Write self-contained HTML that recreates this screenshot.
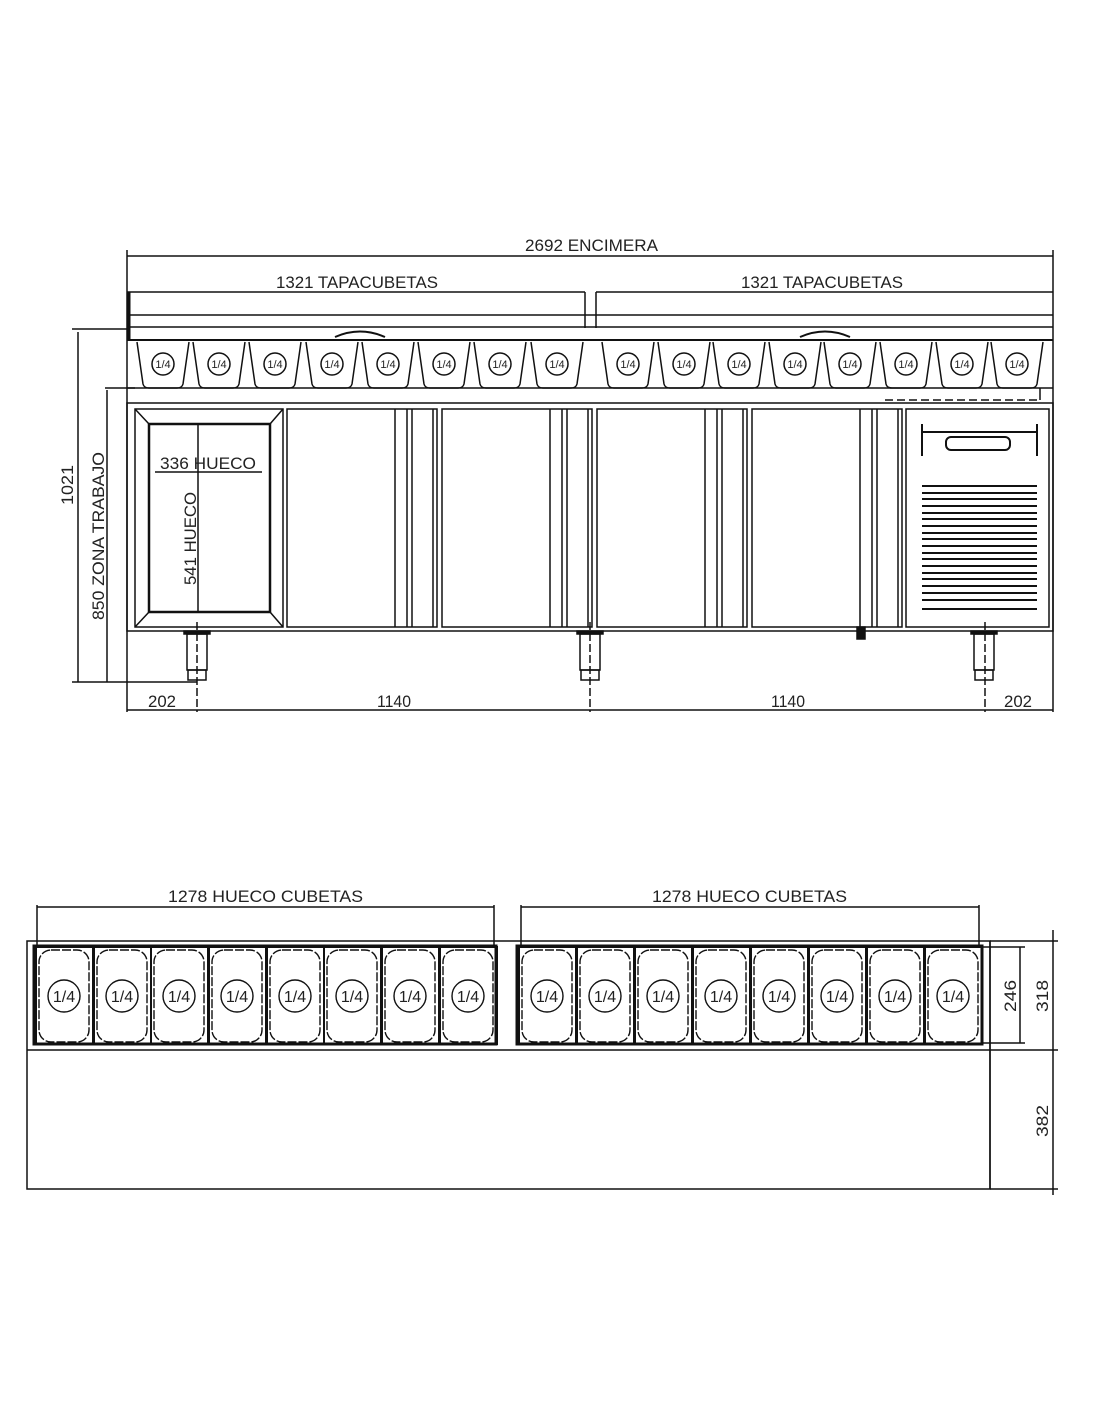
<!DOCTYPE html>
<html><head><meta charset="utf-8"><style>
html,body{margin:0;padding:0;background:#fff;}
svg{display:block;}
text{font-family:"Liberation Sans",sans-serif;fill:#222;}
</style></head><body>
<svg width="1100" height="1422" viewBox="0 0 1100 1422" xmlns="http://www.w3.org/2000/svg">
<defs>
<g id="tp" fill="none" stroke="#111" stroke-width="1.5">
<path d="M2 342 L8 384 Q9 388 14 388 L42 388 Q47 388 48 384 L54 342"/>
<circle cx="28" cy="364" r="11"/>
</g>
<g id="bp" fill="none" stroke="#111" stroke-width="1.4">
<rect x="3" y="950" width="50" height="92" rx="12" stroke-dasharray="9 2"/>
<rect x="0" y="947" width="57" height="97" stroke-width="2"/>
<circle cx="28" cy="996" r="16"/>
</g>
</defs>
<g stroke="#111" stroke-width="1.5" fill="none">
<line x1="127" y1="250" x2="127" y2="712"/>
<line x1="1053" y1="250" x2="1053" y2="712"/>
<line x1="127" y1="256" x2="1053" y2="256"/>
<line x1="127" y1="292" x2="585" y2="292"/>
<line x1="596" y1="292" x2="1053" y2="292"/>
<line x1="585" y1="292" x2="585" y2="328"/>
<line x1="596" y1="292" x2="596" y2="328"/>
<line x1="127" y1="315" x2="1053" y2="315"/>
<line x1="127" y1="327" x2="1053" y2="327"/>
<line x1="127" y1="340" x2="1053" y2="340" stroke-width="2"/>
<line x1="129" y1="292" x2="129" y2="340" stroke-width="3"/>
<line x1="72" y1="329" x2="127" y2="329"/>
<line x1="78" y1="332" x2="78" y2="682"/>
<line x1="105" y1="388" x2="135" y2="388"/>
<line x1="107" y1="390" x2="107" y2="682"/>
<line x1="72" y1="682" x2="197" y2="682"/>
<rect x="127" y="403" width="926" height="228"/>
<line x1="127" y1="388" x2="1053" y2="388"/>
<line x1="885" y1="400" x2="1040" y2="400" stroke-dasharray="8 4"/>
<line x1="1040" y1="388" x2="1040" y2="400"/>
<rect x="135" y="409" width="148" height="218"/>
<rect x="149" y="424" width="121" height="188" stroke-width="2.5"/>
<line x1="135" y1="409" x2="149" y2="424"/><line x1="283" y1="409" x2="270" y2="424"/>
<line x1="135" y1="627" x2="149" y2="612"/><line x1="283" y1="627" x2="270" y2="612"/>
<line x1="198" y1="424" x2="198" y2="612"/>
<line x1="155" y1="472" x2="262" y2="472"/>
<rect x="287" y="409" width="150" height="218"/>
<rect x="442" y="409" width="150" height="218"/>
<rect x="597" y="409" width="150" height="218"/>
<rect x="752" y="409" width="150" height="218"/>
<g stroke-width="1.5">
<path d="M395 409V627M407 409V627M412 409V627M433 409V627"/>
<path d="M550 409V627M562 409V627M567 409V627M588 409V627"/>
<path d="M705 409V627M717 409V627M722 409V627M743 409V627"/>
<path d="M860 409V627M872 409V627M877 409V627M898 409V627"/>
</g>
<rect x="906" y="409" width="143" height="218"/>
<path d="M922 424V456M922 432H1037M1037 424V456" stroke-width="2"/>
<rect x="946" y="437" width="64" height="13" rx="5" stroke-width="2"/>
<g stroke-width="2">
<path d="M922 486H1037M922 493H1037M922 499H1037M922 506H1037M922 513H1037M922 519H1037M922 526H1037M922 533H1037M922 539H1037M922 546H1037M922 553H1037M922 559H1037M922 566H1037M922 573H1037M922 579H1037M922 586H1037M922 593H1037M922 600H1037M922 609H1037"/>
</g>
<rect x="857" y="627" width="8" height="12" fill="#111"/>
<g>
<rect x="184" y="631" width="26" height="3" fill="#111"/><rect x="187" y="634" width="20" height="36"/><rect x="188" y="670" width="18" height="10"/>
<rect x="577" y="631" width="26" height="3" fill="#111"/><rect x="580" y="634" width="20" height="36"/><rect x="581" y="670" width="18" height="10"/>
<rect x="971" y="631" width="26" height="3" fill="#111"/><rect x="974" y="634" width="20" height="36"/><rect x="975" y="670" width="18" height="10"/>
<path d="M197 622V712M590 622V712M985 622V712" stroke-dasharray="8 3"/>
</g>
<line x1="127" y1="710" x2="1053" y2="710"/>
<path d="M335 337Q360 326 385 337M800 337Q825 326 850 337" stroke-width="2"/>
<line x1="37" y1="905" x2="37" y2="946"/><line x1="494" y1="905" x2="494" y2="946"/>
<line x1="521" y1="905" x2="521" y2="946"/><line x1="979" y1="905" x2="979" y2="946"/>
<line x1="37" y1="907" x2="494" y2="907"/>
<line x1="521" y1="907" x2="979" y2="907"/>
<rect x="27" y="941" width="963" height="248"/>
<line x1="27" y1="1050" x2="990" y2="1050"/>
<line x1="990" y1="941" x2="1058" y2="941"/>
<line x1="983" y1="947" x2="1025" y2="947"/>
<line x1="983" y1="1043" x2="1025" y2="1043"/>
<line x1="990" y1="1050" x2="1058" y2="1050"/>
<line x1="990" y1="1189" x2="1058" y2="1189"/>
<line x1="1020" y1="947" x2="1020" y2="1043"/>
<line x1="1053" y1="930" x2="1053" y2="1195"/>
<line x1="990" y1="941" x2="990" y2="1189"/>
<rect x="34" y="946" width="462" height="98" stroke-width="3"/>
<rect x="517" y="946" width="465" height="98" stroke-width="3"/>
</g>
<use href="#tp" x="135"/><use href="#tp" x="191"/><use href="#tp" x="247"/><use href="#tp" x="304"/>
<use href="#tp" x="360"/><use href="#tp" x="416"/><use href="#tp" x="472"/><use href="#tp" x="529"/>
<use href="#tp" x="600"/><use href="#tp" x="656"/><use href="#tp" x="711"/><use href="#tp" x="767"/>
<use href="#tp" x="822"/><use href="#tp" x="878"/><use href="#tp" x="934"/><use href="#tp" x="989"/>
<use href="#bp" x="36"/><use href="#bp" x="94"/><use href="#bp" x="151"/><use href="#bp" x="209"/>
<use href="#bp" x="267"/><use href="#bp" x="324"/><use href="#bp" x="382"/><use href="#bp" x="440"/>
<use href="#bp" x="519"/><use href="#bp" x="577"/><use href="#bp" x="635"/><use href="#bp" x="693"/>
<use href="#bp" x="751"/><use href="#bp" x="809"/><use href="#bp" x="867"/><use href="#bp" x="925"/>
<g font-size="17">
<text x="525" y="251" textLength="133" lengthAdjust="spacingAndGlyphs">2692 ENCIMERA</text>
<text x="276" y="288" textLength="162" lengthAdjust="spacingAndGlyphs">1321 TAPACUBETAS</text>
<text x="741" y="288" textLength="162" lengthAdjust="spacingAndGlyphs">1321 TAPACUBETAS</text>
<text x="160" y="469" textLength="96" lengthAdjust="spacingAndGlyphs">336 HUECO</text>
<text transform="translate(196,585) rotate(-90)" textLength="93" lengthAdjust="spacingAndGlyphs">541 HUECO</text>
<text transform="translate(104,620) rotate(-90)" textLength="168" lengthAdjust="spacingAndGlyphs">850 ZONA TRABAJO</text>
<text transform="translate(73,505) rotate(-90)" textLength="40" lengthAdjust="spacingAndGlyphs">1021</text>
<text x="148" y="707" textLength="28" lengthAdjust="spacingAndGlyphs">202</text>
<text x="377" y="707" textLength="34" lengthAdjust="spacingAndGlyphs">1140</text>
<text x="771" y="707" textLength="34" lengthAdjust="spacingAndGlyphs">1140</text>
<text x="1004" y="707" textLength="28" lengthAdjust="spacingAndGlyphs">202</text>
<text x="168" y="902" textLength="195" lengthAdjust="spacingAndGlyphs">1278 HUECO CUBETAS</text>
<text x="652" y="902" textLength="195" lengthAdjust="spacingAndGlyphs">1278 HUECO CUBETAS</text>
<text transform="translate(1016,1012) rotate(-90)" textLength="32" lengthAdjust="spacingAndGlyphs">246</text>
<text transform="translate(1048,1012) rotate(-90)" textLength="32" lengthAdjust="spacingAndGlyphs">318</text>
<text transform="translate(1048,1137) rotate(-90)" textLength="32" lengthAdjust="spacingAndGlyphs">382</text>
</g>
<g font-size="11" text-anchor="middle">
<text x="163" y="368">1/4</text><text x="219" y="368">1/4</text><text x="275" y="368">1/4</text><text x="332" y="368">1/4</text>
<text x="388" y="368">1/4</text><text x="444" y="368">1/4</text><text x="500" y="368">1/4</text><text x="557" y="368">1/4</text>
<text x="628" y="368">1/4</text><text x="684" y="368">1/4</text><text x="739" y="368">1/4</text><text x="795" y="368">1/4</text>
<text x="850" y="368">1/4</text><text x="906" y="368">1/4</text><text x="962" y="368">1/4</text><text x="1017" y="368">1/4</text>
</g>
<g font-size="16" text-anchor="middle">
<text x="64" y="1002">1/4</text><text x="122" y="1002">1/4</text><text x="179" y="1002">1/4</text><text x="237" y="1002">1/4</text>
<text x="295" y="1002">1/4</text><text x="352" y="1002">1/4</text><text x="410" y="1002">1/4</text><text x="468" y="1002">1/4</text>
<text x="547" y="1002">1/4</text><text x="605" y="1002">1/4</text><text x="663" y="1002">1/4</text><text x="721" y="1002">1/4</text>
<text x="779" y="1002">1/4</text><text x="837" y="1002">1/4</text><text x="895" y="1002">1/4</text><text x="953" y="1002">1/4</text>
</g>
</svg>
</body></html>
